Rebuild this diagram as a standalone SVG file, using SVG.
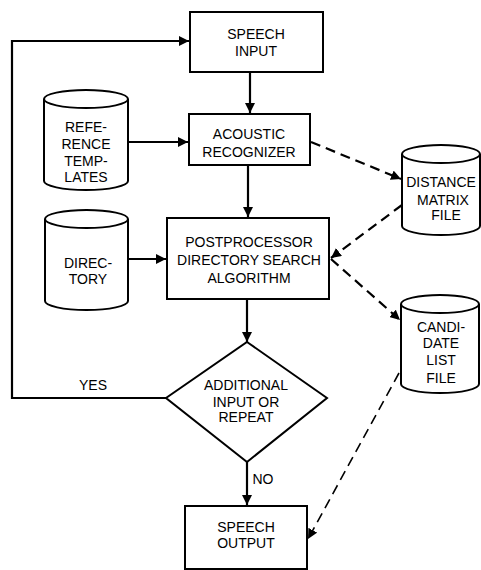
<svg xmlns="http://www.w3.org/2000/svg" width="481" height="570" viewBox="0 0 481 570">
<style>
.box{fill:#fff;stroke:#000;stroke-width:2}
.t{font-family:"Liberation Sans",Arial,sans-serif;font-size:14px;text-anchor:middle;fill:#000}
.c{fill:none;stroke:#000;stroke-width:2.2}
.d{fill:none;stroke:#000;stroke-width:2.2;stroke-dasharray:10 6}
</style>
<defs>
<marker id="a" viewBox="0 0 10 10" refX="10" refY="5" markerWidth="10" markerHeight="10" markerUnits="userSpaceOnUse" orient="auto">
<path d="M0,0 L10,5 L0,10 z" fill="#000"/>
</marker>
</defs>
<rect width="481" height="570" fill="#fff"/>
<g id="connectors">
<path class="c" d="M166,398 H12 V41 H189" marker-end="url(#a)"/>
<path class="c" d="M250,72 V113" marker-end="url(#a)"/>
<path class="c" d="M128,142 H188" marker-end="url(#a)"/>
<path class="c" d="M248,165 V217" marker-end="url(#a)"/>
<path class="c" d="M128,259 H166" marker-end="url(#a)"/>
<path class="d" d="M311,142 L401,179" marker-end="url(#a)"/>
<path class="d" d="M402,205 L331,258" marker-end="url(#a)"/>
<path class="d" d="M331,259 L400,320" marker-end="url(#a)"/>
<path class="c" d="M247,299 V342" marker-end="url(#a)"/>
<path class="c" d="M247,462 V505" marker-end="url(#a)"/>
<path class="d" d="M399,373 L308,539" style="stroke-width:1.6" marker-end="url(#a)"/>
</g>
<g id="speech-input">
<rect class="box" x="190" y="12" width="133" height="60"/>
<text class="t" x="256" y="39">SPEECH</text>
<text class="t" x="256" y="56">INPUT</text>
</g>
<g id="reference-templates">
<path class="box" d="M44,99 V181 A42,9 0 0 0 128,181 V99"/>
<ellipse class="box" cx="86" cy="99" rx="42" ry="9"/>
<text class="t" x="86" y="132">REFE-</text>
<text class="t" x="86" y="149">RENCE</text>
<text class="t" x="86" y="166">TEMP-</text>
<text class="t" x="86" y="182">LATES</text>
</g>
<g id="acoustic-recognizer">
<rect class="box" x="189" y="114" width="121" height="51"/>
<text class="t" x="249" y="139">ACOUSTIC</text>
<text class="t" x="249" y="157">RECOGNIZER</text>
</g>
<g id="distance-matrix-file">
<path class="box" d="M402,154 V226 A39,9 0 0 0 480,226 V154"/>
<ellipse class="box" cx="441" cy="154" rx="39" ry="9"/>
<text class="t" x="441" y="187">DISTANCE</text>
<text class="t" x="443" y="205">MATRIX</text>
<text class="t" x="446" y="220">FILE</text>
</g>
<g id="directory">
<path class="box" d="M45,219 V301 A41.5,9 0 0 0 128,301 V219"/>
<ellipse class="box" cx="86.5" cy="219" rx="41.5" ry="9"/>
<text class="t" x="88" y="268">DIREC-</text>
<text class="t" x="88" y="284">TORY</text>
</g>
<g id="postprocessor">
<rect class="box" x="167" y="218" width="162" height="81"/>
<text class="t" x="249" y="247">POSTPROCESSOR</text>
<text class="t" x="249" y="265">DIRECTORY SEARCH</text>
<text class="t" x="249" y="283">ALGORITHM</text>
</g>
<g id="candidate-list-file">
<path class="box" d="M401,304 V384 A39,9 0 0 0 479,384 V304"/>
<ellipse class="box" cx="440" cy="304" rx="39" ry="9"/>
<text class="t" x="441" y="332">CANDI-</text>
<text class="t" x="441" y="348">DATE</text>
<text class="t" x="441" y="365">LIST</text>
<text class="t" x="441" y="383">FILE</text>
</g>
<g id="decision">
<polygon class="box" points="247,342 327,398 247,462 166,398"/>
<text class="t" x="246" y="390">ADDITIONAL</text>
<text class="t" x="246" y="407">INPUT OR</text>
<text class="t" x="246" y="422">REPEAT</text>
</g>
<text class="t" x="93" y="390">YES</text>
<text class="t" x="263" y="484">NO</text>
<g id="speech-output">
<rect class="box" x="185" y="506" width="122" height="63"/>
<text class="t" x="246" y="532">SPEECH</text>
<text class="t" x="246" y="548">OUTPUT</text>
</g>
</svg>
